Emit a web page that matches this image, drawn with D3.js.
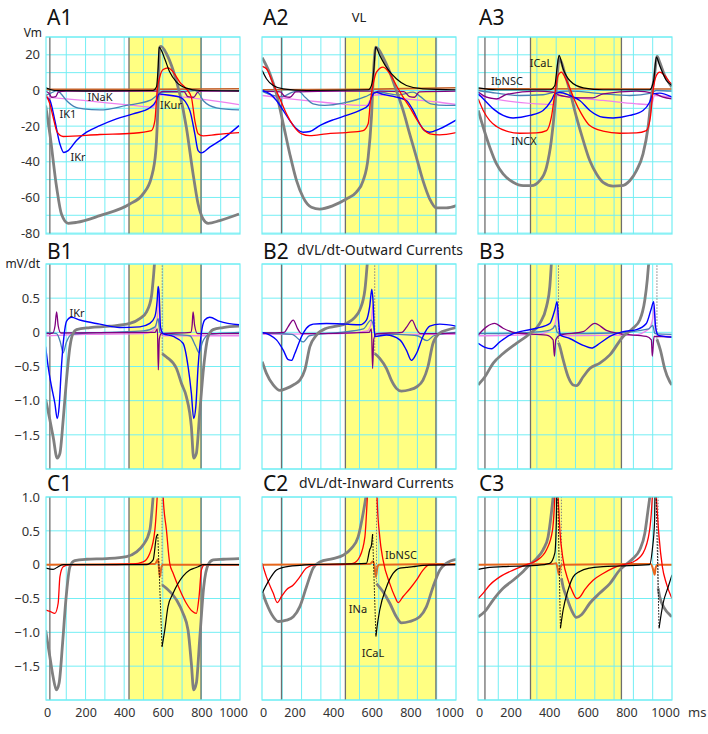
<!DOCTYPE html>
<html><head><meta charset="utf-8">
<script src="https://cdn.jsdelivr.net/npm/d3@7"></script>
<style>
body{margin:0;background:#fff;}
svg{display:block;font-family:"Noto Sans",sans-serif;}
</style></head><body>
<svg id="chart" width="708" height="734"></svg>
<script>
// ---- axis values ----
var msTicks = [0, 200, 400, 600, 800, 1000];
var vmTicks = [20, 0, -20, -40, -60, -80];
var dvTicksB = [0.5, 0, -0.5, -1.0, -1.5];
var dvTicksC = [1.0, 0.5, 0, -0.5, -1.0, -1.5];
// yellow window (ms) and the extra dark marker line, per column
var shadeMs = [[425, 798], [427, 896], [267, 738]];
var markerMs = [15, 96, 31];

// ---- A row: VL and currents (mV) ----
var a1VL = [[-7,-8.4],[15,-24.3],[50,-54.3],[75,-69.3],[110,-74.5],[153,-74],[274,-70.2],[429,-63.7],[498,-58],[541,-48.7],[564,-33.7],[576,-5.6],[584,24.3],[591,24.7],[619,20.6],[654,11.2],[688,-1.9],[722,-20.6],[757,-46.8],[783,-63.7],[809,-72.1],[835,-74.5],[895,-73],[995,-69.3]];
var a1ICaL = [[-7,1.5],[41,0],[274,-0.2],[550,0],[567,1.9],[576,13.1],[581,24.3],[593,22.5],[610,17.8],[636,10.3],[671,4.7],[722,1.3],[791,0],[995,-0.2]];
var a1INCX = [[-7,-2.2],[15,-7.5],[32,-15],[53,-23.4],[84,-25.8],[274,-24.7],[446,-24],[541,-22.5],[559,-16.9],[571,0],[584,7.5],[602,11.8],[628,12.7],[654,10.3],[688,4.7],[722,0.9],[748,-3.7],[766,-16.9],[783,-24.3],[809,-25.5],[878,-24.7],[995,-23.6]];
var a1IKr = [[-7,-3.7],[15,-5.6],[41,-16.9],[67,-30],[87,-34.8],[110,-33.7],[153,-28],[205,-23.4],[274,-19.7],[360,-15.9],[446,-13.1],[533,-9.7],[567,-5.6],[581,-1.9],[602,-2.2],[688,-3.7],[740,-11.2],[766,-24.3],[783,-33.7],[800,-35],[843,-31.8],[912,-27],[995,-19.7]];
var a1IK1 = [[-7,-2.8],[20,-1.5],[50,-0.2],[70,-1.5],[101,-5.6],[150,-9.5],[188,-10.3],[274,-10.9],[412,-8.4],[533,-5.6],[576,-2.2],[593,-1],[700,-0.8],[766,0],[790,-2],[809,-5.6],[878,-9.7],[995,-10.9]];
var a1IKur = [[-7,-3.7],[188,-5.6],[446,-8.4],[550,-9.4],[576,-2.4],[620,-2.8],[790,-4.7],[995,-7.9]];
var a1INaK = [[-7,-0.4],[10,-1.5],[25,-3.8],[45,-3.5],[60,-0.8],[100,-0.4],[570,-0.4],[580,-1.2],[600,-0.5],[710,-0.6],[730,-3.5],[760,-3.8],[780,-1],[800,-0.4],[995,-0.4]];
var a1IbNSC = [[-7,0.6],[500,0.6],[995,1.0]];

var a2VL = [[-4,18.4],[36,9.4],[70,-1.9],[105,-18.7],[139,-35.6],[174,-50.6],[208,-60],[251,-65.5],[294,-66.5],[363,-64.6],[432,-60.9],[484,-57],[519,-50.6],[545,-37.5],[562,-15],[574,13],[584,24.3],[596,23.4],[622,18.7],[657,10.3],[691,0],[726,-11.2],[760,-24.3],[795,-37.5],[829,-50.6],[864,-60.9],[898,-65.9],[950,-65.9],[1002,-64.6]];
var a2ICaL = [[-4,11.2],[18,6.6],[53,2.8],[105,0.9],[225,0],[545,0.4],[562,2.8],[574,11.2],[584,24.3],[605,19.7],[639,13.1],[691,6.6],[743,2.8],[829,0.9],[1002,0.4]];
var a2INCX = [[-4,13.5],[18,12.2],[53,3.7],[88,-4.7],[122,-13.1],[157,-19.7],[200,-24.3],[243,-25.3],[329,-24.3],[432,-23.6],[519,-22.5],[545,-18.7],[557,-5.6],[571,3.7],[588,10.3],[622,13.1],[657,9.4],[691,2.8],[726,-3.7],[760,-9.4],[795,-15.9],[829,-21.5],[864,-24.3],[915,-24.9],[1002,-23.6]];
var a2IKr = [[-4,0],[36,-1.9],[70,-5.6],[105,-11.2],[139,-16.9],[174,-21.5],[208,-23.4],[243,-23],[294,-19.7],[363,-16.5],[432,-14],[502,-11.2],[545,-8.4],[567,-2.8],[579,-0.9],[622,-2.2],[691,-3.7],[743,-5.6],[778,-11.2],[812,-18.7],[838,-22.5],[864,-23.4],[915,-21.5],[1002,-16.5]];
var a2IK1 = [[-4,-0.5],[53,-2.8],[100,-3.5],[150,-1],[183,-0.4],[220,-4],[260,-7.5],[320,-8.4],[420,-7],[530,-3.5],[570,-1.5],[600,-1],[700,-2.5],[778,-0.9],[810,-3],[870,-7.5],[950,-8.4],[1002,-8.4]];
var a2IKur = [[-4,-2.8],[139,-4.7],[312,-6.6],[536,-8.4],[570,-2.8],[605,-2.4],[743,-4.7],[915,-6.6],[1002,-7.9]];
var a2INaK = [[-4,-0.4],[90,-0.8],[115,-3.5],[140,-3.8],[170,-0.8],[400,-0.4],[560,-0.4],[575,-1.5],[600,-0.4],[730,-0.6],[760,-3.5],[785,-3.8],[810,-0.8],[1002,-0.4]];
var a2IbNSC = [[-4,0.4],[500,0.6],[1002,1.5]];

var a3VL = [[-4,-11.2],[22,-20.6],[56,-31.8],[91,-41.2],[125,-46.8],[177,-51.5],[229,-53.4],[272,-53.4],[315,-50.6],[350,-43],[375,-28],[393,-9.4],[405,7.5],[415,17.8],[427,15.9],[445,9.4],[470,0],[505,-15],[540,-28],[574,-39.3],[609,-46.8],[643,-51.5],[695,-53.6],[738,-53.4],[781,-50.6],[816,-44.9],[850,-35.6],[876,-20.6],[893,-3.7],[910,9.4],[923,19.1],[936,15.9],[962,8.4],[988,3.7],[1000,1.9]];
var a3ICaL = [[-4,1.5],[91,0.4],[367,0.4],[393,2.8],[405,13.1],[415,19.7],[436,12.2],[470,5.6],[540,1.5],[643,0.4],[884,0.4],[905,5.6],[919,18.7],[936,14],[971,5.6],[1000,2.8]];
var a3INCX = [[-4,-4.7],[22,-11.2],[56,-16.9],[91,-20.2],[143,-22.8],[212,-24],[298,-23.8],[350,-22.5],[375,-15],[393,-1.9],[410,8.4],[427,10.3],[445,7.5],[470,1.5],[496,-5.6],[531,-13.1],[574,-19.7],[643,-22.8],[729,-24],[816,-23.8],[867,-22.5],[888,-15],[902,0],[919,8.4],[936,10.3],[962,8.4],[988,4.7],[1000,3.7]];
var a3IKr = [[-4,-1.9],[22,-4.7],[74,-10.3],[125,-14],[177,-15.4],[263,-14],[332,-11.2],[375,-5.6],[393,-1.9],[419,-1.1],[470,-2.8],[522,-5.6],[574,-11.2],[643,-15],[695,-15.4],[781,-14],[850,-11.2],[884,-6.6],[902,-1.9],[936,-1.5],[1000,-3.7]];
var a3IK1 = [[-4,0],[91,-1.5],[212,-2.8],[332,-2.4],[393,-0.9],[470,-0.4],[643,-1.9],[781,-2.8],[893,-1.5],[919,0],[1000,-0.4]];
var a3IKur = [[-4,-2.8],[125,-5.6],[298,-7.5],[384,-7.9],[401,-2.8],[470,-3.7],[643,-5.6],[816,-7.5],[893,-7.9],[910,-2.8],[1000,-3.7]];
var a3INaK = [[-4,-0.9],[39,-3.7],[91,-4.7],[143,-2.2],[298,-0.4],[384,-0.9],[405,-2.2],[470,-3.7],[522,-4.1],[591,-4.1],[643,-1.9],[816,-0.4],[902,-1.5],[953,-3.7],[1000,-4.7]];
var a3IbNSC = [[-4,1],[1000,0.8]];

// ---- B row: dVL/dt, outward currents (null = steep jump, drawn dotted) ----
var b1VL = [[-7,-0.98],[15,-1.28],[32,-1.53],[53,-1.84],[67,-1.77],[84,-1.28],[101,-0.7],[119,-0.21],[136,-0.01],[153,0.04],[222,0.07],[326,0.09],[429,0.13],[481,0.2],[516,0.3],[541,0.52],[553,0.86],[562,1.2],[597,3],null,[597,-0.31],[619,-0.36],[671,-0.53],[697,-0.75],[722,-0.94],[748,-1.38],[760,-1.84],[774,-1.77],[791,-1.19],[812,-0.5],[835,-0.06],[861,0.04],[912,0.07],[995,0.09]];
var b1IKr = [[-7,-0.21],[6,-0.5],[24,-0.8],[41,-1.04],[53,-1.26],[63,-1.09],[75,-0.5],[88,-0.06],[101,0.16],[127,0.22],[170,0.18],[274,0.12],[377,0.07],[481,0.08],[533,0.13],[559,0.23],[571,0.47],[576,0.67],[581,0.57],[588,0.08],[602,-0.02],[654,-0.06],[705,-0.16],[731,-0.5],[748,-0.89],[760,-1.26],[771,-1.09],[783,-0.5],[800,-0.01],[817,0.18],[843,0.22],[895,0.16],[995,0.11]];
var b1INaK = [[-7,-0.02],[30,-0.01],[42,0.1],[50,0.3],[58,0.1],[72,-0.01],[560,0],[572,0.05],[577,-0.55],[582,-0.1],[592,-0.02],[745,0],[752,0.1],[757,0.3],[765,0.1],[780,-0.02],[995,-0.02]];
var b1IK1 = [[-7,0],[50,-0.02],[70,-0.15],[84,-0.3],[100,-0.15],[130,-0.03],[300,0],[500,0.02],[560,0.08],[576,0.2],[585,0],[600,-0.02],[740,-0.05],[770,-0.2],[788,-0.3],[805,-0.15],[840,-0.03],[995,0]];
var b1IKur = [[-7,-0.05],[200,-0.03],[500,-0.02],[560,0.05],[574,0.3],[580,0.65],[585,0.1],[600,-0.05],[995,-0.05]];

var b2VL = [[-4,-0.43],[18,-0.6],[53,-0.77],[88,-0.85],[122,-0.82],[157,-0.77],[191,-0.7],[217,-0.55],[243,-0.21],[277,-0.04],[329,0.06],[381,0.09],[432,0.13],[476,0.22],[502,0.33],[528,0.62],[540,1.0],[579,3],null,[579,-0.31],[605,-0.38],[640,-0.53],[665,-0.7],[691,-0.82],[717,-0.86],[760,-0.84],[795,-0.8],[829,-0.7],[855,-0.5],[881,-0.16],[916,-0.01],[950,0.03],[1002,0.07]];
var b2IKr = [[-4,0],[36,-0.04],[70,-0.11],[105,-0.26],[131,-0.4],[148,-0.41],[165,-0.31],[200,-0.06],[225,0.06],[260,0.12],[329,0.13],[432,0.12],[502,0.11],[536,0.18],[553,0.38],[564,0.63],[570,0.47],[579,-0.06],[640,-0.04],[709,-0.11],[743,-0.26],[769,-0.41],[795,-0.31],[829,-0.06],[864,0.09],[916,0.12],[1002,0.09]];
var b2INaK = [[-4,-0.01],[110,0],[130,0.08],[157,0.18],[180,0.05],[200,-0.02],[550,0],[562,0.05],[568,-0.53],[574,-0.1],[590,-0.02],[720,0],[745,0.08],[772,0.18],[795,0.05],[815,-0.02],[1002,-0.01]];
var b2IK1 = [[-4,-0.01],[150,-0.03],[208,-0.14],[240,-0.05],[400,0],[520,0.05],[560,0.18],[572,0.1],[580,-0.02],[700,-0.03],[800,-0.05],[850,-0.12],[885,-0.05],[1002,0]];
var b2IKur = [[-4,-0.03],[400,-0.02],[540,0.02],[560,0.12],[570,0.4],[575,0.05],[590,-0.03],[1002,-0.03]];

var b3VL = [[-4,-0.77],[31,-0.65],[74,-0.45],[125,-0.31],[194,-0.16],[263,-0.02],[315,0.13],[350,0.38],[367,0.67],[375,1.0],[412,3],null,[412,-0.15],[419,-0.21],[436,-0.4],[462,-0.65],[488,-0.77],[505,-0.78],[540,-0.65],[574,-0.53],[626,-0.45],[678,-0.33],[747,-0.06],[798,0.06],[833,0.18],[859,0.47],[872,0.77],[879,1.0],[922,3],null,[922,-0.1],[940,-0.26],[962,-0.53],[988,-0.72],[1000,-0.77]];
var b3IKr = [[-4,-0.16],[31,-0.22],[65,-0.24],[108,-0.14],[160,-0.04],[212,0.01],[298,0.06],[367,0.13],[393,0.33],[405,0.45],[412,0.18],[422,-0.04],[470,-0.09],[540,-0.19],[583,-0.23],[626,-0.16],[678,-0.06],[747,0.01],[816,0.04],[867,0.13],[893,0.35],[905,0.45],[915,0.08],[928,-0.04],[1000,-0.07]];
var b3INaK = [[-4,-0.04],[39,0.08],[82,0.13],[125,0.06],[194,-0.01],[350,-0.04],[384,-0.11],[391,-0.35],[398,-0.11],[419,-0.04],[540,0.01],[600,0.13],[660,0.03],[729,-0.02],[867,-0.06],[893,-0.11],[898,-0.35],[907,-0.06],[1000,-0.07]];
var b3IK1 = [[-4,-0.02],[200,-0.01],[350,0.02],[384,0.06],[395,0.1],[405,0],[420,-0.02],[700,-0.01],[880,0.05],[900,0.1],[912,-0.02],[1000,-0.03]];
var b3IKur = [[-4,-0.05],[300,-0.03],[380,0.05],[400,0.2],[408,0.4],[412,0.05],[425,-0.05],[800,-0.04],[880,0.05],[900,0.2],[908,0.4],[913,0.05],[930,-0.05],[1000,-0.06]];

// ---- C row: dVL/dt, inward currents ----
var c1VL = [[-7,-0.97],[15,-1.36],[32,-1.66],[49,-1.85],[63,-1.75],[81,-1.16],[98,-0.52],[119,-0.03],[144,0.06],[205,0.08],[308,0.09],[412,0.12],[464,0.19],[498,0.29],[533,0.51],[550,1.0],[596,3],null,[596,-0.3],[619,-0.35],[671,-0.52],[705,-0.72],[731,-0.97],[748,-1.46],[760,-1.85],[774,-1.75],[791,-1.11],[812,-0.33],[835,0],[861,0.07],[912,0.08],[995,0.09]];
var c1INCX = [[-7,-0.67],[15,-0.69],[41,-0.72],[58,-0.57],[67,-0.18],[84,-0.03],[119,0],[274,0],[446,0.01],[498,0.04],[533,0.17],[559,0.51],[571,1.0],[581,1.6],[590,2.5],[598,1.6],[602,1.0],[619,0.51],[636,0.02],[654,-0.13],[688,-0.37],[722,-0.57],[753,-0.69],[774,-0.72],[788,-0.47],[800,-0.08],[817,0],[995,0]];
var c1ICaL = [[-7,-0.05],[32,-0.07],[58,-0.03],[84,0],[515,0],[550,0.07],[567,0.41],[574,0.45],null,[596,-1.21],[610,-0.97],[627,-0.62],[654,-0.42],[705,-0.17],[740,-0.08],[766,-0.05],[783,-0.03],[809,0],[995,0]];
var c1IbNSC = [[-7,0],[560,0.01],[575,0.08],[580,-0.05],[585,-0.18],[592,-0.05],[600,0],[995,0]];

var c2VL = [[-4,-0.4],[18,-0.57],[53,-0.77],[79,-0.84],[122,-0.82],[157,-0.77],[191,-0.62],[225,-0.33],[260,-0.05],[294,0.04],[363,0.09],[415,0.14],[458,0.24],[493,0.41],[519,0.76],[533,1.0],[588,3],null,[588,-0.28],[622,-0.4],[657,-0.57],[691,-0.77],[717,-0.86],[760,-0.84],[812,-0.77],[847,-0.62],[881,-0.33],[916,-0.08],[950,0.02],[1002,0.08]];
var c2INCX = [[-4,0.02],[18,-0.18],[53,-0.42],[74,-0.56],[96,-0.47],[122,-0.37],[157,-0.3],[191,-0.18],[225,-0.05],[277,0],[398,0],[467,0.02],[502,0.12],[528,0.41],[541,1.0],[553,1.6],[570,2.5],[588,1.6],[591,1.0],[605,0.41],[622,0.07],[657,-0.28],[683,-0.47],[700,-0.56],[726,-0.47],[760,-0.36],[795,-0.23],[829,-0.08],[864,0],[1002,0]];
var c2ICaL = [[-4,-0.42],[27,-0.25],[70,-0.08],[105,-0.04],[191,-0.01],[243,0],[536,0.02],[553,0.22],[562,0.29],[568,0.45],null,[585,-1.06],[591,-0.92],[605,-0.67],[640,-0.33],[674,-0.13],[709,-0.05],[743,-0.04],[778,-0.03],[829,-0.01],[1002,0]];
var c2IbNSC = [[-4,0],[555,0.01],[570,0.05],[578,-0.02],[585,-0.18],[592,-0.05],[600,0],[1002,0.01]];

var c3VL = [[-4,-0.77],[31,-0.69],[74,-0.52],[125,-0.35],[177,-0.23],[229,-0.1],[263,0],[298,0.09],[332,0.22],[358,0.41],[375,0.76],[384,1.0],[427,3],null,[427,-0.2],[436,-0.33],[453,-0.47],[479,-0.67],[505,-0.78],[531,-0.74],[574,-0.57],[626,-0.42],[678,-0.28],[729,-0.08],[764,0.01],[798,0.09],[833,0.22],[859,0.46],[876,0.81],[885,1.0],[928,3],null,[928,-0.35],[936,-0.47],[962,-0.65],[988,-0.74],[1000,-0.77]];
var c3INCX = [[-4,-0.5],[22,-0.42],[56,-0.3],[108,-0.18],[177,-0.08],[246,0],[298,0.06],[350,0.22],[381,0.51],[393,1.0],[401,1.6],[410,1.0],[419,0.51],[436,0.07],[462,-0.23],[488,-0.42],[505,-0.5],[522,-0.48],[548,-0.37],[591,-0.23],[643,-0.13],[695,-0.05],[747,0],[798,0.04],[850,0.17],[884,0.51],[898,1.0],[907,1.6],[919,1.0],[933,0.41],[950,-0.03],[971,-0.28],[1000,-0.5]];
var c3ICaL = [[-4,-0.07],[56,-0.04],[125,-0.03],[298,-0.01],[367,0.02],[393,0.17],[401,0.66],[405,1.5],null,[422,-0.94],[436,-0.67],[462,-0.37],[488,-0.18],[522,-0.1],[574,-0.05],[643,-0.03],[729,-0.02],[884,0],[898,0.22],[910,0.66],[914,1.5],null,[933,-0.94],[954,-0.57],[980,-0.33],[1000,-0.15]];
var c3IbNSC = [[-4,0],[380,0.01],[400,0.02],[410,-0.1],[415,-0.15],[420,-0.05],[430,0],[890,0.01],[905,-0.1],[910,-0.15],[915,-0.05],[925,0],[1000,0]];

// ---- layout ----
var colLeft = [46, 262, 478], plotW = 194;
var rows = [
    {top: 37, bottom: 234, dom: [-80.5, 30], grid: d3.range(-80, 31, 10), ticks: vmTicks},
    {top: 264, bottom: 469, dom: [-2, 1], grid: d3.range(-2, 1.01, 0.5), ticks: dvTicksB},
    {top: 497, bottom: 700, dom: [-2, 1], grid: d3.range(-2, 1.01, 0.5), ticks: dvTicksC}
];
var style = {
    IbNSC: {c: '#c4622a', w: 1.6}, IKur: {c: '#ee82ee', w: 1.3}, IK1: {c: '#4682b4', w: 1.3},
    INaK: {c: '#800080', w: 1.3}, VL: {c: '#808080', w: 2.8}, IKr: {c: '#0000ff', w: 1.4},
    INCX: {c: '#ff0000', w: 1.3}, ICaL: {c: '#000000', w: 1.2}
};
var drawOrder = ['IbNSC', 'IKur', 'IK1', 'INaK', 'VL', 'IKr', 'INCX', 'ICaL'];

var panels = [
    {id: 'A1', row: 0, col: 0, s: {VL: a1VL, ICaL: a1ICaL, INCX: a1INCX, IKr: a1IKr, IK1: a1IK1, IKur: a1IKur, INaK: a1INaK, IbNSC: a1IbNSC}},
    {id: 'A2', row: 0, col: 1, s: {VL: a2VL, ICaL: a2ICaL, INCX: a2INCX, IKr: a2IKr, IK1: a2IK1, IKur: a2IKur, INaK: a2INaK, IbNSC: a2IbNSC}},
    {id: 'A3', row: 0, col: 2, s: {VL: a3VL, ICaL: a3ICaL, INCX: a3INCX, IKr: a3IKr, IK1: a3IK1, IKur: a3IKur, INaK: a3INaK, IbNSC: a3IbNSC}},
    {id: 'B1', row: 1, col: 0, s: {VL: b1VL, IKr: b1IKr, INaK: b1INaK, IK1: b1IK1, IKur: b1IKur}},
    {id: 'B2', row: 1, col: 1, s: {VL: b2VL, IKr: b2IKr, INaK: b2INaK, IK1: b2IK1, IKur: b2IKur}},
    {id: 'B3', row: 1, col: 2, s: {VL: b3VL, IKr: b3IKr, INaK: b3INaK, IK1: b3IK1, IKur: b3IKur}},
    {id: 'C1', row: 2, col: 0, s: {VL: c1VL, INCX: c1INCX, ICaL: c1ICaL, IbNSC: c1IbNSC}},
    {id: 'C2', row: 2, col: 1, s: {VL: c2VL, INCX: c2INCX, ICaL: c2ICaL, IbNSC: c2IbNSC}},
    {id: 'C3', row: 2, col: 2, s: {VL: c3VL, INCX: c3INCX, ICaL: c3ICaL, IbNSC: c3IbNSC}}
];

var svg = d3.select('#chart');
var defs = svg.append('defs');
var titleBase = [25, 259, 491];
var gridColor = '#74eef4';

panels.forEach(function(p){
    var left = colLeft[p.col], r = rows[p.row];
    var x = d3.scaleLinear().domain([-5, 1000]).range([left, left + plotW]);
    var y = d3.scaleLinear().domain(r.dom).range([r.bottom, r.top]);
    var h = r.bottom - r.top;
    var g = svg.append('g');

    defs.append('clipPath').attr('id', 'clip' + p.id)
        .append('rect').attr('x', left).attr('y', r.top).attr('width', plotW).attr('height', h);

    //yellow window
    var sh = shadeMs[p.col];
    g.append('rect').attr('x', x(sh[0])).attr('y', r.top)
        .attr('width', x(sh[1]) - x(sh[0])).attr('height', h).attr('fill', '#ffff82');

    //grid
    g.selectAll('.vg').data(d3.range(100, 1000, 100)).enter().append('line')
        .attr('x1', function(d){ return x(d); }).attr('x2', function(d){ return x(d); })
        .attr('y1', r.top).attr('y2', r.bottom).attr('stroke', gridColor).attr('stroke-width', 1);
    g.selectAll('.hg').data(r.grid).enter().append('line')
        .attr('x1', left).attr('x2', left + plotW)
        .attr('y1', function(d){ return y(d); }).attr('y2', function(d){ return y(d); })
        .attr('stroke', gridColor).attr('stroke-width', 1);

    //dark marker lines
    [markerMs[p.col], sh[0], sh[1]].forEach(function(m){
        g.append('line').attr('x1', x(m)).attr('x2', x(m)).attr('y1', r.top).attr('y2', r.bottom)
            .attr('stroke', '#6e6e6e').attr('stroke-width', 1.3);
    });

    //curves
    var cg = g.append('g').attr('clip-path', 'url(#clip' + p.id + ')');
    var line = d3.line().defined(function(d){ return d != null; })
        .x(function(d){ return x(d[0]); }).y(function(d){ return y(d[1]); })
        .curve(d3.curveMonotoneX);
    drawOrder.forEach(function(name){
        var data = p.s[name];
        if (!data) return;
        var st = style[name];
        var col = st.c, w = st.w;
        if (name === 'IbNSC' && p.row === 2) { col = '#e8661c'; w = 2; }
        cg.append('path').datum(data).attr('d', line).attr('fill', 'none')
            .attr('stroke', col).attr('stroke-width', w).attr('stroke-linejoin', 'round');
        //steep jumps drawn as thin dotted lines
        data.forEach(function(d, i){
            if (d !== null) return;
            var a = data[i - 1], b = data[i + 1];
            cg.append('line').attr('x1', x(a[0])).attr('y1', y(a[1])).attr('x2', x(b[0])).attr('y2', y(b[1]))
                .attr('stroke', col).attr('stroke-width', 1).attr('stroke-dasharray', '1.5,1.5');
        });
    });

    //frame
    g.append('rect').attr('x', left).attr('y', r.top).attr('width', plotW).attr('height', h)
        .attr('fill', 'none').attr('stroke', gridColor).attr('stroke-width', 1.2);

    //panel title
    svg.append('text').attr('x', left + 1).attr('y', titleBase[p.row]).text(p.id)
        .attr('font-size', 21).attr('fill', '#111');

    //y axis on first column
    if (p.col === 0) {
        var ax = svg.append('g').attr('transform', 'translate(' + left + ',0)')
            .call(d3.axisLeft(y).tickValues(r.ticks).tickSize(0).tickPadding(6)
                .tickFormat(function(d){ return p.row === 0 ? d : (d === 0 ? '0' : d3.format('.1f')(d)); }));
        ax.select('.domain').remove();
        ax.selectAll('text').attr('font-size', 13).attr('fill', '#333').attr('font-family', '"Noto Sans",sans-serif');
    }
    //x axis on bottom row
    if (p.row === 2) {
        var bx = svg.append('g').attr('transform', 'translate(0,' + r.bottom + ')')
            .call(d3.axisBottom(x).tickValues(msTicks).tickSize(0).tickPadding(8).tickFormat(d3.format('d')));
        bx.select('.domain').remove();
        bx.selectAll('text').attr('font-size', 12.5).attr('fill', '#333').attr('font-family', '"Noto Sans",sans-serif')
            .attr('dx', function(d){ return d === 1000 ? -7 : (p.col > 0 && d > 0 ? -7 : 0); });
    }
});

//axis captions and subtitles
function txt(x, y, s, size, anchor){
    return svg.append('text').attr('x', x).attr('y', y).text(s).attr('font-size', size)
        .attr('fill', '#222').attr('text-anchor', anchor || 'start');
}
txt(42, 37, 'Vm', 12, 'end');
txt(40, 268, 'mV/dt', 12, 'end');
txt(359, 22, 'VL', 13, 'middle');
txt(297, 255, 'dVL/dt-Outward Currents', 14);
txt(299, 488, 'dVL/dt-Inward Currents', 14);
txt(688, 717, 'ms', 13).attr('fill', '#333');

//current labels
var curveLabels = [
    ['INaK', 100, 96], ['IK1', 68, 113], ['IKr', 78, 156], ['IKur', 171, 104],
    ['ICaL', 541, 62], ['IbNSC', 507, 80], ['INCX', 524, 140],
    ['IKr', 77, 312],
    ['IbNSC', 401, 554], ['INa', 358, 608], ['ICaL', 373, 652]
];
curveLabels.forEach(function(l){
    txt(l[1], l[2], l[0], 11, 'middle').attr('dominant-baseline', 'central').attr('fill', '#1a1a1a');
});
</script>
</body></html>
